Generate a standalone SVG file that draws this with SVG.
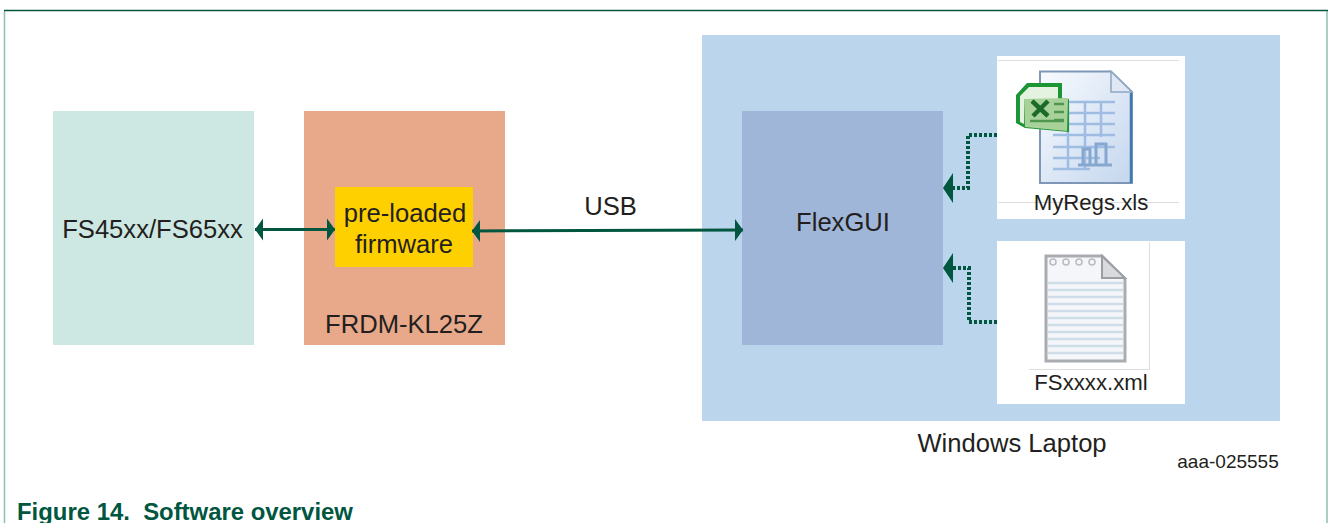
<svg xmlns="http://www.w3.org/2000/svg" width="1328" height="523" viewBox="0 0 1328 523">
<style>
text{font-family:"Liberation Sans",Arial,sans-serif;fill:#231f20}
.l{font-size:25.600px;text-anchor:middle}
.f{font-size:22.200px;text-anchor:middle}
.c{fill:none;stroke:#00563f;stroke-width:3}
.d{fill:none;stroke:#00563f;stroke-width:4;stroke-dasharray:3 2}
.g{fill:none;stroke:#9fbde2;stroke-width:2.500}
.n{fill:none;stroke:#cfdde9;stroke-width:2.500}
</style>
<defs>
<marker id="h" markerUnits="userSpaceOnUse" markerWidth="12" markerHeight="24" refX="8" refY="11" orient="auto-start-reverse" viewBox="0 0 12 22"><path d="M0 0L8 11L0 22Z" fill="#00563f"/></marker>
<linearGradient id="dg" x1="0" y1="0" x2="1" y2="1"><stop offset="0" stop-color="#f8fbfe"/><stop offset="1" stop-color="#c4d6ee"/></linearGradient>
<filter id="b" x="-5%" y="-5%" width="110%" height="110%"><feGaussianBlur stdDeviation="0.600"/></filter>
</defs>
<rect width="1328" height="523" fill="#fff"/>
<g id="frame">
<path d="M4.500 523V11" fill="none" stroke="#8fbfb0" stroke-width="1.500"/>
<path d="M1327 523V11" fill="none" stroke="#8fbfb0" stroke-width="1.500"/>
<path d="M4 10.500H1328" fill="none" stroke="#00563f" stroke-width="1.500"/>
</g>
<g id="laptop"><rect x="702" y="35" width="578" height="386" fill="#bbd6ec"/><text x="1012" y="452" class="l">Windows Laptop</text></g>
<g id="fs"><rect x="53" y="111" width="201" height="234" fill="#cde8e2"/><text x="152.500" y="238" class="l">FS45xx/FS65xx</text></g>
<g id="frdm"><rect x="304" y="111" width="201" height="234" fill="#e8a98b"/><text x="404" y="333" class="l">FRDM-KL25Z</text></g>
<g id="firmware"><rect x="335" y="187" width="138" height="80" fill="#ffd000"/><text x="405" y="222" class="l">pre-loaded</text><text x="404" y="253" class="l">firmware</text></g>
<g id="flexgui"><rect x="742" y="111" width="201" height="234" fill="#a0b6d9"/><text x="843" y="231" class="l">FlexGUI</text></g>
<g id="myregs">
<rect x="997" y="56" width="188" height="163" fill="#fff"/>
<path d="M998 60.500H1179M998 202.500H1179" stroke="#ddd" fill="none"/>
<g filter="url(#b)">
<path d="M1040 71.500H1111L1132 92V183H1040Z" fill="url(#dg)" stroke="#7f97b6" stroke-width="2"/>
<path d="M1111 71.500V92H1132Z" fill="#dfe8f3" stroke="#8fa6c2" stroke-width="1.500"/>
<path d="M1131 93V183" stroke="#3f78b4" stroke-width="2.500"/>
<path class="g" d="M1053 102H1115M1053 113H1115M1053 124H1115M1053 135H1115M1053 147H1115M1053 158H1100M1053 169H1090M1068 102V169M1085 102V169M1101 102V137"/>
<path d="M1083 165V149H1090V165M1096 165V144H1106V165M1078 165H1112" fill="none" stroke="#86a7d0" stroke-width="3"/>
<path d="M1016 95L1027 83H1062V98L1069 99V132L1025 128L1016 123Z" fill="#1f9635"/>
<path d="M1020 96L1029 87H1058V99L1024 100V124L1020 122Z" fill="#e4f2e0"/>
<path d="M1024 99L1068 98L1067 131L1025 127Z" fill="#a9d29a"/>
<path d="M1032 101L1048 116M1048 101L1033 116" stroke="#1a6a2a" stroke-width="4.500" fill="none"/>
<path class="g" style="stroke:#4f9650" d="M1054 104H1064M1054 112H1064M1054 120H1064M1030 121H1064"/>
</g>
<text x="1091" y="210" class="f">MyRegs.xls</text>
</g>
<g id="fsxml">
<rect x="997" y="241" width="188" height="163" fill="#fff"/>
<path d="M1149.500 242V369.500H1029" stroke="#ddd" fill="none"/>
<g filter="url(#b)">
<path d="M1046 256H1102L1125 279V361H1046Z" fill="#f4f6f9" stroke="#a9acb0" stroke-width="3"/>
<path d="M1102 256V278H1125Z" fill="#d8dadd" stroke="#9a9da1" stroke-width="2"/>
<path class="n" d="M1048 283H1123M1048 290H1123M1048 297H1123M1048 304H1123M1048 311H1123M1048 318H1123M1048 325H1123M1048 332H1123M1048 339H1123M1048 346H1123M1048 353H1123"/>
<g fill="none" stroke="#b8bbc0" stroke-width="1.500"><circle cx="1053" cy="262" r="3"/><circle cx="1066" cy="262" r="3"/><circle cx="1079" cy="262" r="3"/><circle cx="1092" cy="262" r="3"/></g>
</g>
<text x="1091" y="390" class="f">FSxxxx.xml</text>
</g>
<g id="connectors">
<path class="c" d="M255 229.500H335" marker-start="url(#h)" marker-end="url(#h)"/>
<path class="c" d="M472 231L743 230" marker-start="url(#h)" marker-end="url(#h)"/>
<path class="d" d="M997 135H968V188H953"/>
<path class="d" d="M997 322H969V268H953"/>
<path d="M943 188L953 173V203Z" fill="#00563f"/>
<path d="M943 268L953 253V283Z" fill="#00563f"/>
</g>
<g id="labels">
<text x="610.500" y="215" class="l">USB</text>
<text x="1228" y="468" style="font-size:19px;text-anchor:middle">aaa-025555</text>
<text x="17" y="520" style="font-size:23.900px;font-weight:bold;fill:#00563f;white-space:pre">Figure 14.  Software overview</text>
</g>
</svg>
